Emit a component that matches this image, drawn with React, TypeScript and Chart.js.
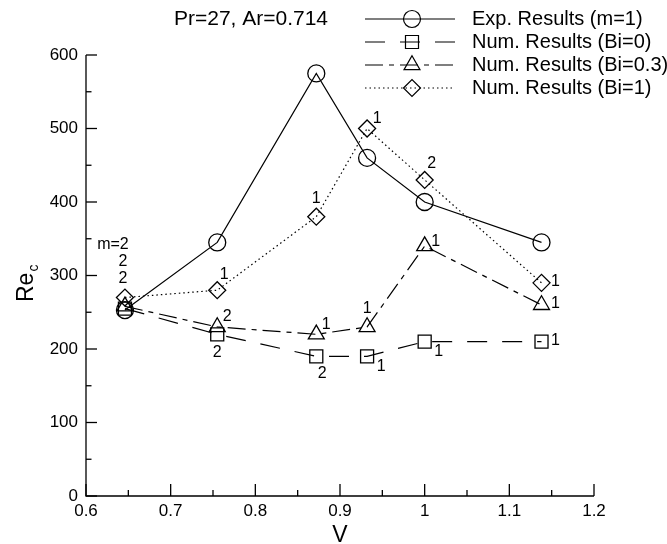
import React, { useEffect, useRef } from 'react';
import { Chart, registerables } from 'chart.js';

Chart.register(...registerables);

// ---------- data ----------
const V_VALUES = [0.646, 0.755, 0.872, 0.932, 1.0, 1.138];
const EXP_M1 = [253, 345, 575, 460, 400, 345];
const NUM_BI0 = [255, 220, 190, 190, 210, 210];
const NUM_BI03 = [258, 230, 220, 230, 340, 260];
const NUM_BI1 = [270, 280, 380, 500, 430, 290];
const SERIES_NAMES = [
  'Exp. Results (m=1)',
  'Num. Results (Bi=0)',
  'Num. Results (Bi=0.3)',
  'Num. Results (Bi=1)',
];
const TITLE_TEXT = 'Pr=27, Ar=0.714';
const X_TITLE = 'V';
const Y_TITLE = 'Re';
const Y_TITLE_SUB = 'c';
const X_MIN = 0.6;
const X_MAX = 1.2;
const X_STEP = 0.1;
const Y_MIN = 0;
const Y_MAX = 600;
const Y_STEP = 100;

// mode-number labels attached to points (series index, point index, text, placement)
const POINT_LABELS: { s: number; i: number; text: string; place: string }[] = [
  { s: 0, i: 0, text: 'm=2', place: 'stack3' },
  { s: 0, i: 0, text: '2', place: 'stack2' },
  { s: 0, i: 0, text: '2', place: 'stack1' },
  { s: 1, i: 1, text: '2', place: 'below' },
  { s: 1, i: 2, text: '2', place: 'belowRight' },
  { s: 1, i: 3, text: '1', place: 'lowerRight' },
  { s: 1, i: 4, text: '1', place: 'lowerRight' },
  { s: 1, i: 5, text: '1', place: 'right' },
  { s: 2, i: 1, text: '2', place: 'upperRight' },
  { s: 2, i: 2, text: '1', place: 'upperRight' },
  { s: 2, i: 3, text: '1', place: 'above' },
  { s: 2, i: 4, text: '1', place: 'rightHigh' },
  { s: 2, i: 5, text: '1', place: 'right' },
  { s: 3, i: 1, text: '1', place: 'aboveRight' },
  { s: 3, i: 2, text: '1', place: 'above' },
  { s: 3, i: 3, text: '1', place: 'upperRight' },
  { s: 3, i: 4, text: '2', place: 'aboveRight' },
  { s: 3, i: 5, text: '1', place: 'right' },
];

// ---------- styles ----------
const FONT = '"Liberation Sans", Arial, Helvetica, sans-serif';
const PLACE_OFFSETS: Record<string, [number, number]> = {
  stack3: [-12, -65],
  stack2: [-2, -48],
  stack1: [-2, -31],
  below: [0, 18],
  belowRight: [6, 17],
  lowerRight: [14, 10],
  right: [14, -1],
  rightHigh: [11, -5],
  upperRight: [10, -10],
  above: [0, -18],
  aboveRight: [7, -16],
};
const STYLES = [
  { point: 'circle', radius: 8.5, dash: [] as number[] },
  { point: 'rect', radius: 9.2, dash: [20, 15] },
  { point: 'triangle', radius: 9.2, dash: [18, 6, 5, 6] },
  { point: 'rectRot', radius: 8.5, dash: [1.5, 3] },
];
const SERIES_DATA = [EXP_M1, NUM_BI0, NUM_BI03, NUM_BI1];

function drawMarker(ctx: CanvasRenderingContext2D, style: string, x: number, y: number, r: number) {
  ctx.beginPath();
  if (style === 'circle') {
    ctx.arc(x, y, r, 0, Math.PI * 2);
  } else if (style === 'rect') {
    const h = r * Math.SQRT1_2;
    ctx.rect(x - h, y - h, 2 * h, 2 * h);
  } else if (style === 'triangle') {
    for (let k = 0; k < 3; k++) {
      const a = (k * 2 * Math.PI) / 3;
      const px = x + Math.sin(a) * r;
      const py = y - Math.cos(a) * r;
      if (k === 0) ctx.moveTo(px, py);
      else ctx.lineTo(px, py);
    }
    ctx.closePath();
  } else {
    ctx.moveTo(x - r, y);
    ctx.lineTo(x, y - r);
    ctx.lineTo(x + r, y);
    ctx.lineTo(x, y + r);
    ctx.closePath();
  }
  ctx.stroke();
}

const decorPlugin = {
  id: 'decor',
  afterDraw(chart: any) {
    const ctx: CanvasRenderingContext2D = chart.ctx;
    const { left, right, top, bottom } = chart.chartArea;
    const xs = chart.scales.x;
    const ys = chart.scales.y;
    ctx.save();
    ctx.strokeStyle = '#000';
    ctx.fillStyle = '#000';
    ctx.lineWidth = 1.3;
    ctx.setLineDash([]);
    // axes
    ctx.beginPath();
    ctx.moveTo(left, top);
    ctx.lineTo(left, bottom);
    ctx.lineTo(right, bottom);
    ctx.stroke();
    // y ticks (major + minor) inward
    const yt = ys.ticks.map((t: any) => t.value);
    yt.forEach((v: number, k: number) => {
      const y = ys.getPixelForValue(v);
      ctx.beginPath();
      ctx.moveTo(left, y);
      ctx.lineTo(left + 11, y);
      ctx.stroke();
      if (k < yt.length - 1) {
        const ym = ys.getPixelForValue((v + yt[k + 1]) / 2);
        ctx.beginPath();
        ctx.moveTo(left, ym);
        ctx.lineTo(left + 5.5, ym);
        ctx.stroke();
      }
    });
    const xt = xs.ticks.map((t: any) => t.value);
    xt.forEach((v: number, k: number) => {
      const x = xs.getPixelForValue(v);
      ctx.beginPath();
      ctx.moveTo(x, bottom);
      ctx.lineTo(x, bottom - 12);
      ctx.stroke();
      if (k < xt.length - 1) {
        const xm = xs.getPixelForValue((v + xt[k + 1]) / 2);
        ctx.beginPath();
        ctx.moveTo(xm, bottom);
        ctx.lineTo(xm, bottom - 6);
        ctx.stroke();
      }
    });

    // axis titles
    ctx.font = `23px ${FONT}`;
    ctx.textAlign = 'center';
    ctx.textBaseline = 'alphabetic';
    ctx.fillText(X_TITLE, (left + right) / 2, 542);

    ctx.save();
    ctx.translate(33, 302);
    ctx.rotate(-Math.PI / 2);
    ctx.textAlign = 'left';
    ctx.font = `23px ${FONT}`;
    ctx.fillText(Y_TITLE, 0, 0);
    const w = ctx.measureText(Y_TITLE).width;
    ctx.font = `14px ${FONT}`;
    ctx.fillText(Y_TITLE_SUB, w + 1, 5);
    ctx.restore();

    // title
    ctx.font = `21px ${FONT}`;
    ctx.textAlign = 'center';
    ctx.textBaseline = 'middle';
    ctx.fillText(TITLE_TEXT, 251, 19);

    // legend
    const rows = [19, 42, 65, 88];
    chart.data.datasets.forEach((ds: any, k: number) => {
      const y = rows[k];
      ctx.lineWidth = 1.2;
      ctx.setLineDash(STYLES[k].dash);
      ctx.beginPath();
      ctx.moveTo(365, y);
      ctx.lineTo(455, y);
      ctx.stroke();
      ctx.setLineDash([]);
      drawMarker(ctx, STYLES[k].point, 412, y, STYLES[k].radius);
      ctx.font = `20px ${FONT}`;
      ctx.textAlign = 'left';
      ctx.textBaseline = 'middle';
      ctx.fillText(ds.label, 472, y);
    });

    // point labels
    ctx.font = `16px ${FONT}`;
    ctx.textAlign = 'center';
    ctx.textBaseline = 'middle';
    POINT_LABELS.forEach((lab) => {
      const px = xs.getPixelForValue(V_VALUES[lab.i]);
      const py = ys.getPixelForValue(SERIES_DATA[lab.s][lab.i]);
      const off = PLACE_OFFSETS[lab.place];
      ctx.fillText(lab.text, px + off[0], py + off[1]);
    });
    ctx.restore();
  },
};

export default function App() {
  const ref = useRef<HTMLCanvasElement | null>(null);
  useEffect(() => {
    if (!ref.current) return;
    const datasets = SERIES_DATA.map((arr, k) => ({
      label: SERIES_NAMES[k],
      data: V_VALUES.map((v, i) => ({ x: v, y: arr[i] })),
      showLine: true,
      borderColor: '#000',
      borderWidth: 1.2,
      borderDash: STYLES[k].dash,
      pointStyle: STYLES[k].point,
      pointRadius: STYLES[k].radius,
      pointBorderWidth: 1.3,
      pointBorderColor: '#000',
      pointBackgroundColor: 'rgba(0,0,0,0)',
      fill: false,
      tension: 0,
    }));
    const chart = new Chart(ref.current, {
      type: 'scatter',
      data: { datasets },
      options: {
        animation: false,
        responsive: false,
        devicePixelRatio: 1,
        layout: { padding: { left: 0, top: 55, right: 73, bottom: 0 } },
        plugins: { legend: { display: false }, title: { display: false }, tooltip: { enabled: false } },
        scales: {
          x: {
            type: 'linear',
            min: X_MIN,
            max: X_MAX,
            grid: { display: false, drawTicks: false },
            border: { display: false },
            ticks: {
              stepSize: X_STEP,
              color: '#000',
              font: { family: FONT, size: 17 },
              padding: 5,
              maxRotation: 0,
              autoSkip: false,
              callback: (v: any) => String(Math.round(Number(v) * 10) / 10),
            },
            afterFit: (s: any) => {
              s.height = 48;
            },
          },
          y: {
            type: 'linear',
            min: Y_MIN,
            max: Y_MAX,
            grid: { display: false, drawTicks: false },
            border: { display: false },
            ticks: {
              stepSize: Y_STEP,
              color: '#000',
              font: { family: FONT, size: 17 },
              padding: 8,
            },
            afterFit: (s: any) => {
              s.width = 86;
            },
          },
        },
      },
      plugins: [decorPlugin],
    } as any);
    return () => chart.destroy();
  }, []);
  return (
    <div style={{ position: 'absolute', left: 0, top: 0, width: 667, height: 544, background: '#fff' }}>
      <canvas ref={ref} width={667} height={544} style={{ width: 667, height: 544, display: 'block' }} />
    </div>
  );
}
